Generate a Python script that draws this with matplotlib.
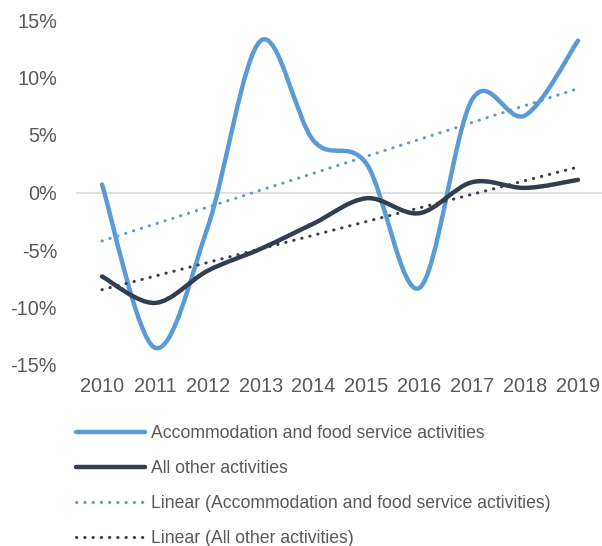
import numpy as np
import matplotlib.pyplot as plt
from matplotlib.path import Path
from matplotlib.patches import PathPatch
from matplotlib.lines import Line2D

plt.rcParams['font.family'] = ['Liberation Sans', 'DejaVu Sans']

years = ['2010', '2011', '2012', '2013', '2014', '2015', '2016', '2017', '2018', '2019']
accommodation = [0.7, -13.5, -3.0, 13.2, 4.5, 2.5, -8.3, 8.1, 6.7, 13.2]
all_other = [-7.3, -9.6, -6.8, -4.9, -2.7, -0.5, -1.8, 0.9, 0.4, 1.1]

BLUE = '#5B9BD5'
DARK = '#333F50'
GREY = '#595959'
DOTS = (0, (0.1, 2.6))


def smooth_path(xs, ys):
    """Bezier path through the points, like Excel's smoothed line."""
    pts = np.column_stack([xs, ys]).astype(float)
    n = len(pts)
    verts = [pts[0]]
    codes = [Path.MOVETO]
    for i in range(n - 1):
        p0 = pts[max(i - 1, 0)]
        p1 = pts[i]
        p2 = pts[i + 1]
        p3 = pts[min(i + 2, n - 1)]
        c1 = p1 + (p2 - p0) / 6
        c2 = p2 - (p3 - p1) / 6
        verts += [c1, c2, p2]
        codes += [Path.CURVE4] * 3
    return Path(verts, codes)


fig = plt.figure(figsize=(6.02, 5.46), dpi=100)
ax = fig.add_axes([75.56 / 602, 181 / 546, 528.9 / 602, 345 / 546])

x = np.arange(len(years))

ax.axhline(0, color='#D9D9D9', linewidth=1.2, zorder=1)

for vals, col in [(accommodation, BLUE), (all_other, DARK)]:
    patch = PathPatch(smooth_path(x, vals), facecolor='none', edgecolor=col,
                      linewidth=3.2, capstyle='round', joinstyle='round', zorder=3)
    ax.add_patch(patch)

for vals, col in [(accommodation, BLUE), (all_other, DARK)]:
    k, b = np.polyfit(x, vals, 1)
    ax.plot(x, k * x + b, color=col, linewidth=2.2, linestyle=DOTS,
            dash_capstyle='round', zorder=4)

ax.set_xlim(-0.5, 9.5)
ax.set_ylim(-15, 15)
ax.set_xticks(x)
ax.set_xticklabels(years)
ax.set_yticks([-15, -10, -5, 0, 5, 10, 15])
ax.set_yticklabels([f'{v}%' for v in [-15, -10, -5, 0, 5, 10, 15]])
ax.tick_params(length=0, labelsize=14.3, colors=GREY)
ax.tick_params(axis='y', pad=13.3)
ax.tick_params(axis='x', pad=9)
for s in ax.spines.values():
    s.set_visible(False)

handles = [
    Line2D([], [], color=BLUE, linewidth=3.2, solid_capstyle='round'),
    Line2D([], [], color=DARK, linewidth=3.2, solid_capstyle='round'),
    Line2D([], [], color=BLUE, linewidth=2.2, linestyle=DOTS, dash_capstyle='round'),
    Line2D([], [], color=DARK, linewidth=2.2, linestyle=DOTS, dash_capstyle='round'),
]
labels = ['Accommodation and food service activities', 'All other activities',
          'Linear (Accommodation and food service activities)', 'Linear (All other activities)']
fig.legend(handles, labels, loc='upper left', bbox_to_anchor=(76 / 602, 1 - 425 / 546),
           frameon=False, fontsize=12.7, labelcolor=GREY, handlelength=3.9,
           handletextpad=0.35, labelspacing=1.02, borderpad=0, borderaxespad=0)

fig.savefig('out.png', dpi=100)
